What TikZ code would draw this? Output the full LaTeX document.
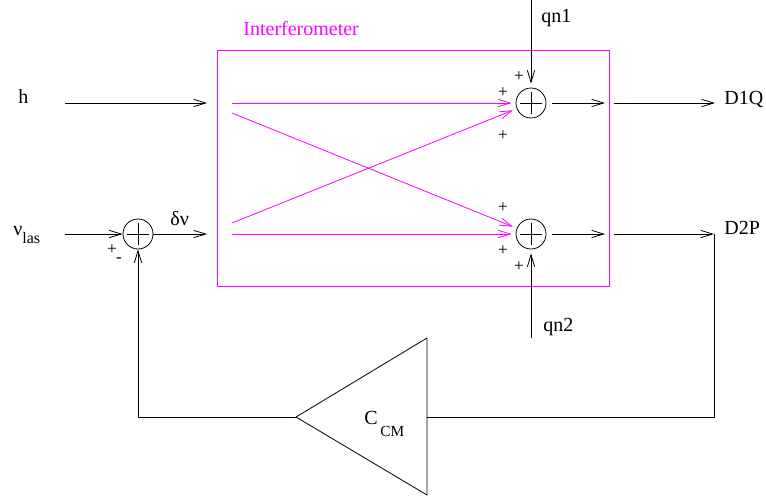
\documentclass[tikz,border=0pt]{standalone}
\usepackage{fontspec}
\setmainfont{Liberation Serif}
\usetikzlibrary{arrows.meta}
\definecolor{ifomag}{RGB}{255,0,255}
\begin{document}
\begin{tikzpicture}[x=0.75pt, y=-0.75pt, line join=round, line width=0.6pt, >={Straight Barb[length=9pt,width=5.5pt]},
	font=\fontsize{15}{18}\selectfont,
	sum/.style={draw, circle, minimum size=22.5pt, inner sep=0pt,
		path picture={\draw (path picture bounding box.center) ++(-8.25pt,0) -- ++(16.5pt,0)
			(path picture bounding box.center) ++(0,-8.25pt) -- ++(0,16.5pt);}},
	sgn/.style={font=\fontsize{13}{15}\selectfont, inner sep=0pt},
	txt/.style={anchor=base west, inner sep=0pt},
	ifo/.style={color=ifomag}]
			
			\useasboundingbox (0,0) rectangle (766,500);
			
			\coordinate (IFO1) at (217,50);
			\coordinate (IFO2) at (609,286);
			
			\node[sum] (s0) at (138,234) {};
			\node[sum] (s1) at (531,103) {};
			\node[sum] (s2) at (531,234) {};
			
			\coordinate (hin) at (65,103);
			\coordinate (hend) at (207,103);
			\coordinate (nuin) at (65,234);
			\coordinate (dnu) at (207,234);
			
			\coordinate (a1) at (232,103);
			\coordinate (a2) at (232,113);
			\coordinate (b1) at (232,223);
			\coordinate (b2) at (232,234);
			
			\coordinate (q1) at (531,0);
			\coordinate (q2) at (531,338);
			
			\coordinate (o1) at (605,103);
			\coordinate (o2) at (605,234);
			\coordinate (d1) at (614,103);
			\coordinate (d1end) at (715,103);
			\coordinate (d2) at (614,234);
			
			\coordinate (fb1) at (714,234);
			\coordinate (fb2) at (714,417);
			\coordinate (fb3) at (138,417);
			
			\coordinate (T1) at (427,338);
			\coordinate (T2) at (296,417);
			\coordinate (T3) at (427,495);
			\coordinate (TR) at (427,417);
			
			\node[txt, ifo] (ifolabel) at (243,35) {Interferometer};
			\node[txt] (h) at (18,103) {h};
			\node[txt] (nulas) at (13,235) {ν\raisebox{-6pt}{\fontsize{12}{14}\selectfont las}};
			\node[txt] (dnulabel) at (170,225) {δν};
			\node[txt] (qn1) at (541,22) {qn1};
			\node[txt] (qn2) at (543,331) {qn2};
			\node[txt] (D1Q) at (724,104) {D1Q};
			\node[txt] (D2P) at (724,234) {D2P};
			\node[txt] (ccm) at (364,424) {C\hspace{2pt}\raisebox{-9pt}{\fontsize{11.5}{13}\selectfont CM}};
			
			\node[sgn] (p11) at (519,77) {+};
			\node[sgn] (p12) at (503,93) {+};
			\node[sgn] (p13) at (503,136) {+};
			\node[sgn] (p21) at (503,208) {+};
			\node[sgn] (p22) at (503,251) {+};
			\node[sgn] (p23) at (519,267) {+};
			\node[sgn] (p01) at (112,250) {+};
			\node[sgn] (m01) at (119,260) {-};
			
			\draw[ifo] (IFO1) rectangle (IFO2);
			\draw[ifo, ->, shorten >=3pt] (a1) -- (s1);
			\draw[ifo, ->, shorten >=3pt] (a2) -- (s2);
			\draw[ifo, ->, shorten >=3pt] (b1) -- (s1);
			\draw[ifo, ->, shorten >=3pt] (b2) -- (s2);
			
			\draw[->] (hin) -- (hend);
			\draw[->] (nuin) -- (s0);
			\draw[->] (s0) -- (dnu);
			\draw[->, shorten >=3pt] (q1) -- (s1);
			\draw[->, shorten >=3pt] (q2) -- (s2);
			\draw[->, shorten <=4pt] (s1) -- (o1);
			\draw[->, shorten <=4pt] (s2) -- (o2);
			\draw[->] (d1) -- (d1end);
			\draw[->] (d2) -- (fb1);
			\draw (fb1) -- (fb2) -- (TR);
			\draw (T1) -- (T2) -- (T3) -- cycle;
			\draw[->] (T2) -- (fb3) -- (s0);
	\end{tikzpicture}
\end{document}
